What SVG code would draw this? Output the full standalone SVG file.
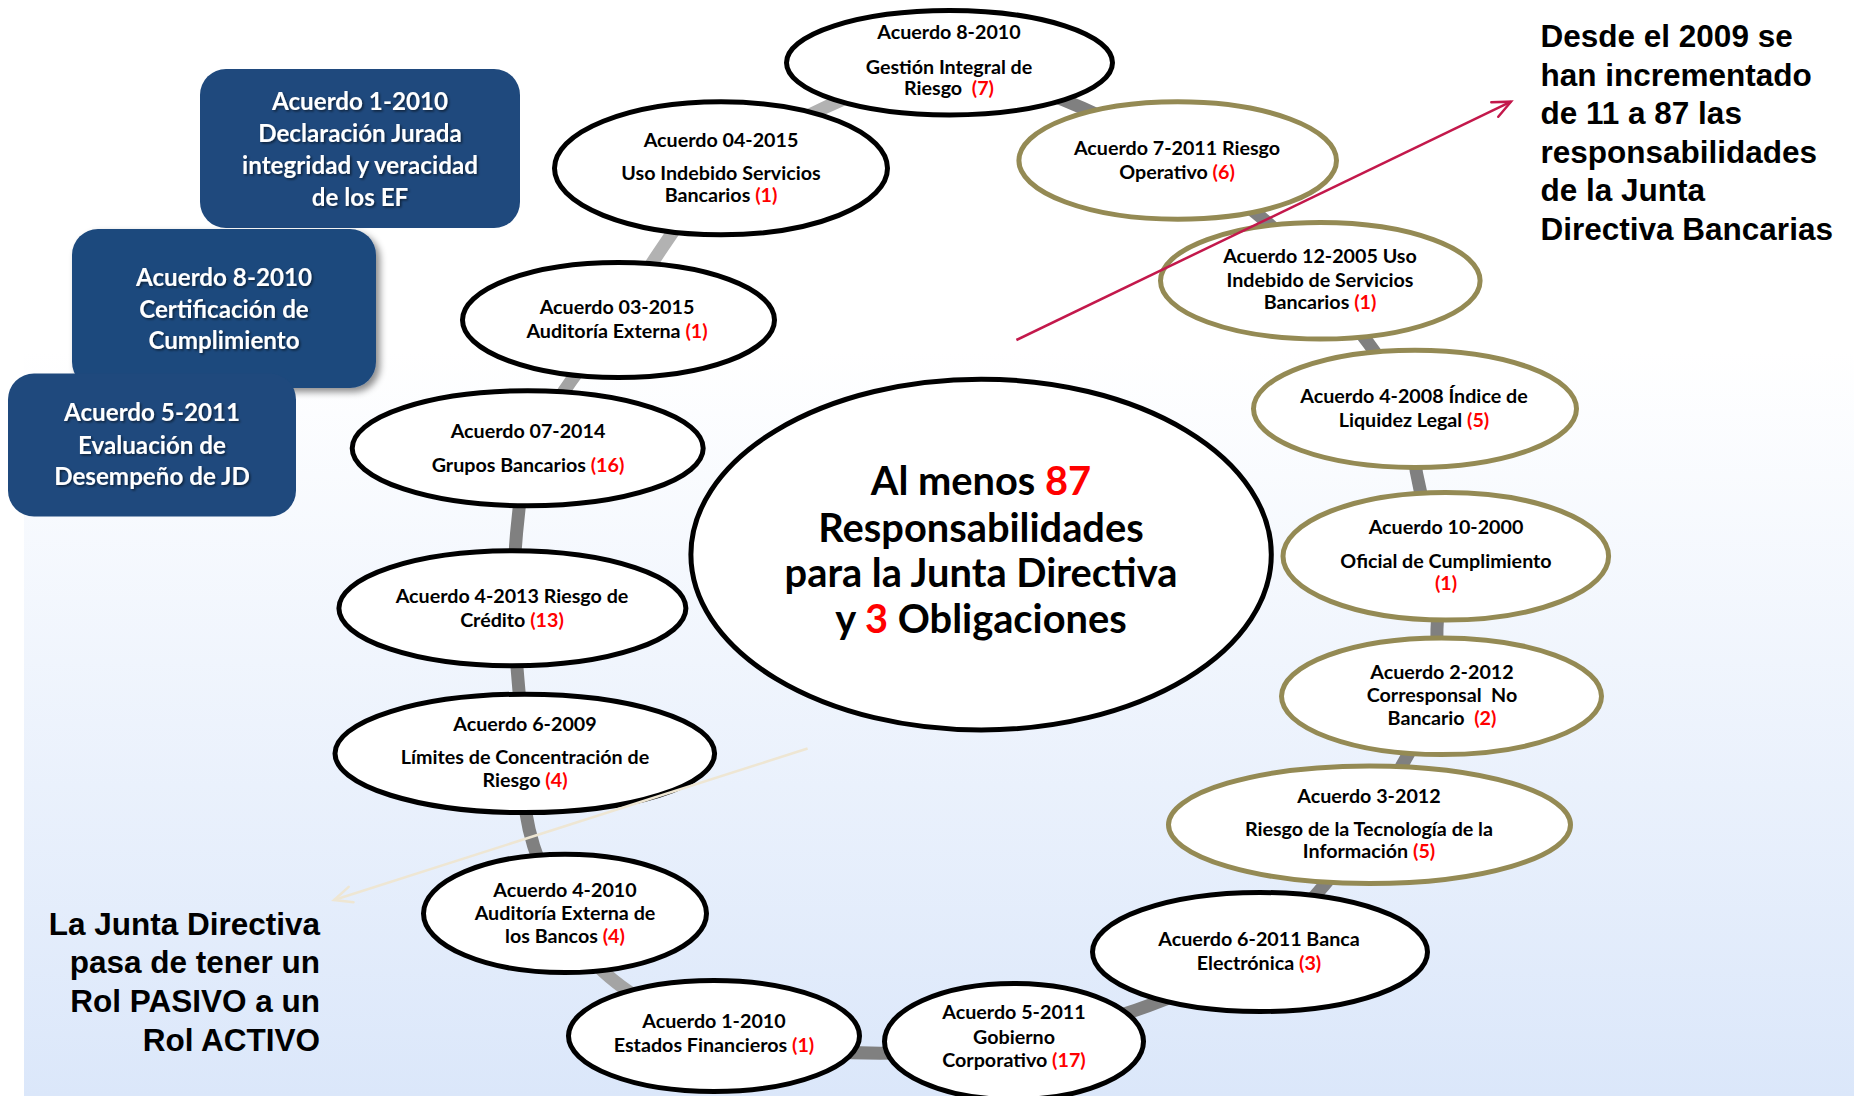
<svg xmlns="http://www.w3.org/2000/svg" width="1854" height="1096" viewBox="0 0 1854 1096">
  <defs>
    <linearGradient id="bg" x1="0" y1="0" x2="0" y2="1">
      <stop offset="0.32" stop-color="#ffffff"/>
      <stop offset="1" stop-color="#dbe7fa"/>
    </linearGradient>
    <filter id="boxShadow" x="-10%" y="-10%" width="130%" height="130%">
      <feDropShadow dx="4" dy="4" stdDeviation="3.5" flood-color="#000" flood-opacity="0.45"/>
    </filter>
    <filter id="txtShadow" x="-5%" y="-20%" width="110%" height="150%">
      <feDropShadow dx="1.5" dy="1.5" stdDeviation="0.8" flood-color="#000" flood-opacity="0.55"/>
    </filter>
    <marker id="headRed" viewBox="0 0 24 20" refX="21" refY="10" markerWidth="24" markerHeight="20" markerUnits="userSpaceOnUse" orient="auto">
      <path d="M3,2 L21,10 L3,18" fill="none" stroke="#c3184b" stroke-width="2.5" stroke-linecap="round" stroke-linejoin="miter"/>
    </marker>
    <marker id="headBeige" viewBox="0 0 24 20" refX="21" refY="10" markerWidth="24" markerHeight="20" markerUnits="userSpaceOnUse" orient="auto">
      <path d="M3,2 L21,10 L3,18" fill="none" stroke="#eee6d3" stroke-width="2.5" stroke-linecap="round"/>
    </marker>
    <style>
      .node ellipse { fill: #ffffff; stroke-width: 5; }
      .blk ellipse { stroke: #000000; }
      .olv ellipse { stroke: #948a54; }
      .t { font-family: Lato, "Open Sans", sans-serif; font-weight: 700; font-size: 19.7px; fill: #000; text-anchor: middle; }
      .big { font-size: 39.8px; }
      .r { fill: #ff0000; }
      .ring path { fill: none; stroke-width: 13; }
      .dark { stroke: #808080; }
      .light { stroke: #b2b2b2; }
      .mid { stroke: #a4a4a4; }
      .box rect { fill: #1f497d; }
      .bt { font-family: Lato, "Open Sans", sans-serif; font-weight: 700; font-size: 24.2px; fill: #ffffff; text-anchor: middle; }
      .ar { font-family: "Liberation Sans", Arial, sans-serif; font-weight: 700; font-size: 31.5px; fill: #000; }
    </style>
  </defs>

  <!-- background -->
  <rect x="0" y="0" width="1854" height="1096" fill="#ffffff"/>
  <rect x="24" y="0" width="1830" height="1096" fill="url(#bg)"/>

  <!-- blue info boxes -->
  <g id="box-acuerdo-1-2010" class="box">
    <rect x="200" y="69" width="320" height="159" rx="26"/>
    <g filter="url(#txtShadow)">
      <text class="bt" x="360" y="110">Acuerdo 1-2010</text>
      <text class="bt" x="360" y="142">Declaración Jurada</text>
      <text class="bt" x="360" y="173.5">integridad y veracidad</text>
      <text class="bt" x="360" y="205.5">de los EF</text>
    </g>
  </g>
  <g id="box-acuerdo-8-2010" class="box">
    <rect x="72" y="229" width="304" height="159" rx="26" filter="url(#boxShadow)"/>
    <g filter="url(#txtShadow)">
      <text class="bt" x="224" y="286">Acuerdo 8-2010</text>
      <text class="bt" x="224" y="317.5">Certificación de</text>
      <text class="bt" x="224" y="349">Cumplimiento</text>
    </g>
  </g>
  <g id="box-acuerdo-5-2011" class="box">
    <rect x="8" y="373.5" width="288" height="143" rx="26"/>
    <g filter="url(#txtShadow)">
      <text class="bt" x="152" y="421">Acuerdo 5-2011</text>
      <text class="bt" x="152" y="453.5">Evaluación de</text>
      <text class="bt" x="152" y="485">Desempeño de JD</text>
    </g>
  </g>

  <!-- ring connectors between the agreements -->
  <g id="connectors" class="ring">
    <path class="light" d="M949.5,62.7 Q820.75,96.5 721,168.3"/>
    <path class="dark" d="M949.5,62.7 Q1092.4,100.4 1177.7,160.5"/>
    <path class="dark" d="M1177.7,160.5 Q1275,215.3 1320.3,280.8"/>
    <path class="dark" d="M1320.3,280.8 Q1370.3,343.2 1415,408.8"/>
    <path class="dark" d="M1415,408.8 Q1405.6,479.4 1445.8,556.3"/>
    <path class="dark" d="M1445.8,556.3 Q1430.3,631.7 1441.5,696.3"/>
    <path class="dark" d="M1441.5,696.3 Q1404.5,759.4 1369.5,824.8"/>
    <path class="dark" d="M1369.5,824.8 Q1327.25,889.6 1260,952"/>
    <path class="dark" d="M1260,952 Q1159,1015 1014,1041.5"/>
    <path class="dark" d="M1014,1041.5 Q868,1067.25 714,1036"/>
    <path class="mid" d="M714,1036 Q584.5,983.3 565,913.4"/>
    <path class="dark" d="M565,913.4 Q515.1,832.6 524.8,753.4"/>
    <path class="dark" d="M524.8,753.4 Q517.4,679.2 512.4,608.3"/>
    <path class="dark" d="M512.4,608.3 Q514,527.7 527.7,448.3"/>
    <path class="mid" d="M527.7,448.3 Q568.9,377.85 618.5,320"/>
    <path class="light" d="M618.5,320 Q654.25,251.85 721,168.3"/>
  </g>

  <!-- agreements -->
  <g id="n-8-2010-gestion" class="node blk">
    <ellipse cx="949.5" cy="62.7" rx="163" ry="52.2"/>
    <text class="t" x="949" y="39">Acuerdo 8-2010</text>
    <text class="t" x="949" y="74">Gestión Integral de</text>
    <text class="t" x="949" y="95" xml:space="preserve">Riesgo  <tspan class="r">(7)</tspan></text>
  </g>
  <g id="n-7-2011" class="node olv">
    <ellipse cx="1177.7" cy="160.5" rx="158.8" ry="58.7"/>
    <text class="t" x="1177" y="155">Acuerdo 7-2011 Riesgo</text>
    <text class="t" x="1177" y="179">Operativo <tspan class="r">(6)</tspan></text>
  </g>
  <g id="n-12-2005" class="node olv">
    <ellipse cx="1320.3" cy="280.8" rx="159.8" ry="58.3"/>
    <text class="t" x="1320" y="263.3">Acuerdo 12-2005 Uso</text>
    <text class="t" x="1320" y="287.3">Indebido de Servicios</text>
    <text class="t" x="1320" y="309.3">Bancarios <tspan class="r">(1)</tspan></text>
  </g>
  <g id="n-4-2008" class="node olv">
    <ellipse cx="1415" cy="408.8" rx="161.5" ry="58.6"/>
    <text class="t" x="1414" y="403.3">Acuerdo 4-2008 Índice de</text>
    <text class="t" x="1414" y="427.3">Liquidez Legal <tspan class="r">(5)</tspan></text>
  </g>
  <g id="n-10-2000" class="node olv">
    <ellipse cx="1445.8" cy="556.3" rx="162.8" ry="63.8"/>
    <text class="t" x="1446" y="534">Acuerdo 10-2000</text>
    <text class="t" x="1446" y="567.8">Oficial de Cumplimiento</text>
    <text class="t" x="1446" y="590"><tspan class="r">(1)</tspan></text>
  </g>
  <g id="n-2-2012" class="node olv">
    <ellipse cx="1441.5" cy="696.3" rx="160" ry="58.3"/>
    <text class="t" x="1442" y="678.6">Acuerdo 2-2012</text>
    <text class="t" x="1442" y="702" xml:space="preserve">Corresponsal  No</text>
    <text class="t" x="1442" y="725" xml:space="preserve">Bancario  <tspan class="r">(2)</tspan></text>
  </g>
  <g id="n-3-2012" class="node olv">
    <ellipse cx="1369.5" cy="824.8" rx="201" ry="58.8"/>
    <text class="t" x="1369" y="802.8">Acuerdo 3-2012</text>
    <text class="t" x="1369" y="836">Riesgo de la Tecnología de la</text>
    <text class="t" x="1369" y="858">Información <tspan class="r">(5)</tspan></text>
  </g>
  <g id="n-6-2011" class="node blk">
    <ellipse cx="1260" cy="952" rx="167.5" ry="59.5"/>
    <text class="t" x="1259" y="945.9">Acuerdo 6-2011 Banca</text>
    <text class="t" x="1259" y="969.6">Electrónica <tspan class="r">(3)</tspan></text>
  </g>
  <g id="n-5-2011" class="node blk">
    <ellipse cx="1014" cy="1041.5" rx="129.5" ry="58"/>
    <text class="t" x="1014" y="1019">Acuerdo 5-2011</text>
    <text class="t" x="1014" y="1043.7">Gobierno</text>
    <text class="t" x="1014" y="1066.6">Corporativo <tspan class="r">(17)</tspan></text>
  </g>
  <g id="n-1-2010" class="node blk">
    <ellipse cx="714" cy="1036" rx="145.5" ry="55.5"/>
    <text class="t" x="714" y="1028">Acuerdo 1-2010</text>
    <text class="t" x="714" y="1051.7">Estados Financieros <tspan class="r">(1)</tspan></text>
  </g>
  <g id="n-4-2010" class="node blk">
    <ellipse cx="565" cy="913.4" rx="141.5" ry="59.2"/>
    <text class="t" x="565" y="896.7">Acuerdo 4-2010</text>
    <text class="t" x="565" y="920">Auditoría Externa de</text>
    <text class="t" x="565" y="942.7">los Bancos <tspan class="r">(4)</tspan></text>
  </g>
  <g id="n-6-2009" class="node blk">
    <ellipse cx="524.8" cy="753.4" rx="189.8" ry="59.2"/>
    <text class="t" x="525" y="730.7">Acuerdo 6-2009</text>
    <text class="t" x="525" y="764">Límites de Concentración de</text>
    <text class="t" x="525" y="786.7">Riesgo <tspan class="r">(4)</tspan></text>
  </g>
  <g id="n-4-2013" class="node blk">
    <ellipse cx="512.4" cy="608.3" rx="173.5" ry="57.5"/>
    <text class="t" x="512" y="603.3">Acuerdo 4-2013 Riesgo de</text>
    <text class="t" x="512" y="626.7">Crédito <tspan class="r">(13)</tspan></text>
  </g>
  <g id="n-07-2014" class="node blk">
    <ellipse cx="527.7" cy="448.3" rx="175.5" ry="57.5"/>
    <text class="t" x="528" y="438.3">Acuerdo 07-2014</text>
    <text class="t" x="528" y="472.3">Grupos Bancarios <tspan class="r">(16)</tspan></text>
  </g>
  <g id="n-03-2015" class="node blk">
    <ellipse cx="618.5" cy="320" rx="156" ry="57.5"/>
    <text class="t" x="617" y="314.3">Acuerdo 03-2015</text>
    <text class="t" x="617" y="338.3">Auditoría Externa <tspan class="r">(1)</tspan></text>
  </g>
  <g id="n-04-2015" class="node blk">
    <ellipse cx="721" cy="168.3" rx="166.5" ry="66.5"/>
    <text class="t" x="721" y="146.7">Acuerdo 04-2015</text>
    <text class="t" x="721" y="180">Uso Indebido Servicios</text>
    <text class="t" x="721" y="202.3">Bancarios <tspan class="r">(1)</tspan></text>
  </g>

  <!-- centre -->
  <g id="n-centro" class="node blk">
    <ellipse cx="981.1" cy="554.6" rx="290.2" ry="175.4"/>
    <text class="t big" x="981" y="495">Al menos <tspan class="r">87</tspan></text>
    <text class="t big" x="981" y="541.5">Responsabilidades</text>
    <text class="t big" x="981" y="587">para la Junta Directiva</text>
    <text class="t big" x="981" y="633">y <tspan class="r">3</tspan> Obligaciones</text>
  </g>

  <!-- side notes -->
  <g id="nota-incremento">
    <text class="ar" x="1540.5" y="47">Desde el 2009 se</text>
    <text class="ar" x="1540.5" y="85.5">han incrementado</text>
    <text class="ar" x="1540.5" y="124">de 11 a 87 las</text>
    <text class="ar" x="1540.5" y="162.5">responsabilidades</text>
    <text class="ar" x="1540.5" y="201">de la Junta</text>
    <text class="ar" x="1540.5" y="239.5">Directiva Bancarias</text>
  </g>
  <g id="nota-rol" text-anchor="end">
    <text class="ar" x="320" y="935">La Junta Directiva</text>
    <text class="ar" x="320" y="973">pasa de tener un</text>
    <text class="ar" x="320" y="1012">Rol PASIVO a un</text>
    <text class="ar" x="320" y="1050.5">Rol ACTIVO</text>
  </g>

  <!-- pointer arrows -->
  <g id="arrows" fill="none" stroke-width="2.5">
    <line x1="1016.4" y1="340" x2="1511" y2="101.7" stroke="#c3184b" marker-end="url(#headRed)"/>
    <line x1="807.6" y1="748.5" x2="334" y2="900" stroke="#eee6d3" marker-end="url(#headBeige)"/>
  </g>
</svg>
